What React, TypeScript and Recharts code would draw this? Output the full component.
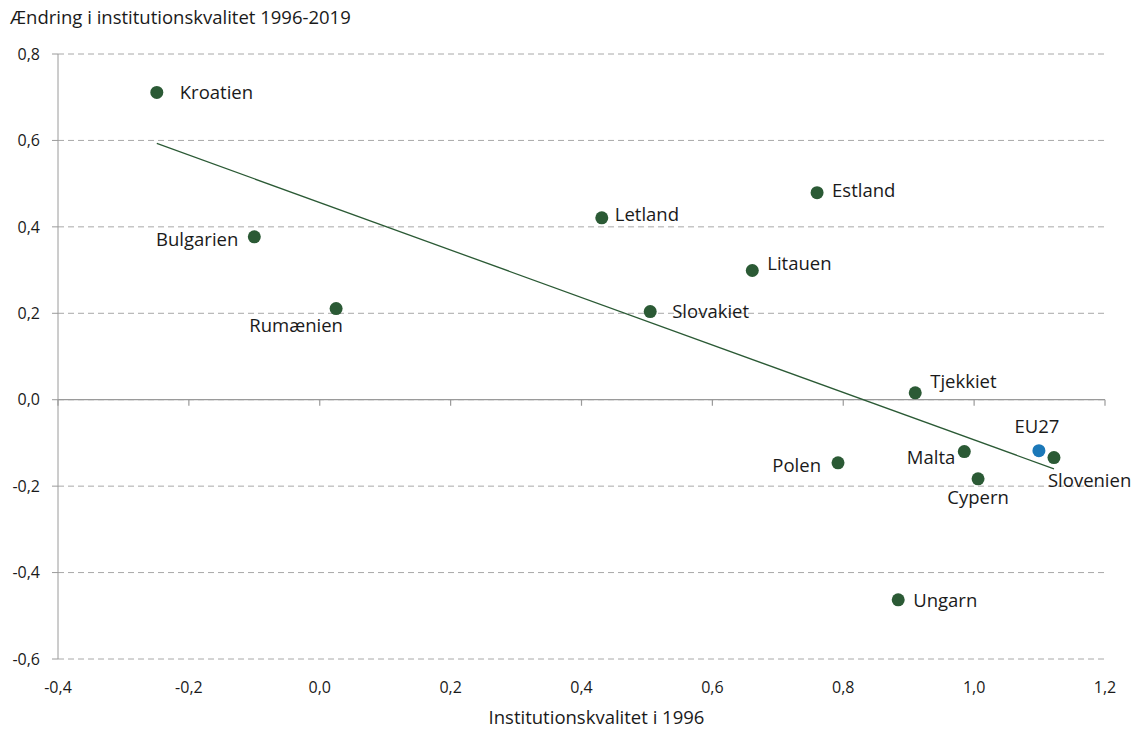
import React from "react";
import {
  ScatterChart,
  Scatter,
  XAxis,
  YAxis,
  CartesianGrid,
  ReferenceLine,
} from "recharts";

const countries = [
  "Kroatien",
  "Bulgarien",
  "Rumænien",
  "Letland",
  "Slovakiet",
  "Litauen",
  "Estland",
  "Tjekkiet",
  "Polen",
  "Malta",
  "Cypern",
  "Slovenien",
  "Ungarn",
];
const quality1996 = [-0.249, -0.1, 0.025, 0.431, 0.505, 0.661, 0.76, 0.91, 0.792, 0.985, 1.006, 1.122, 0.884];
const change = [0.711, 0.377, 0.211, 0.421, 0.204, 0.299, 0.479, 0.016, -0.146, -0.12, -0.183, -0.134, -0.463];

const euName = "EU27";
const euX = 1.099;
const euY = -0.118;

const trendX = [-0.249, 1.122];
const trendY = [0.593, -0.16];

const xTicks = [-0.4, -0.2, 0, 0.2, 0.4, 0.6, 0.8, 1.0, 1.2];
const yTicks = [-0.6, -0.4, -0.2, 0, 0.2, 0.4, 0.6, 0.8];

const GREEN = "#2b5a35";
const BLUE = "#1b78b8";
const AXIS = "#9a9a9a";
const TEXT = "#1a1a1a";
const FONT = "'Open Sans', sans-serif";
const LABEL_SIZE = 18.5;

// where each label sits relative to its dot (px)
const labelPos: Record<string, { dx: number; dy: number; anchor: "start" | "middle" | "end" }> = {
  Kroatien: { dx: 23, dy: -1, anchor: "start" },
  Bulgarien: { dx: -16, dy: 2, anchor: "end" },
  Rumænien: { dx: -40, dy: 16, anchor: "middle" },
  Letland: { dx: 13, dy: -4, anchor: "start" },
  Slovakiet: { dx: 22, dy: -1, anchor: "start" },
  Litauen: { dx: 15, dy: -8, anchor: "start" },
  Estland: { dx: 15, dy: -3, anchor: "start" },
  Tjekkiet: { dx: 15, dy: -12, anchor: "start" },
  Polen: { dx: -17, dy: 2, anchor: "end" },
  Malta: { dx: -9, dy: 5, anchor: "end" },
  Cypern: { dx: 0, dy: 18, anchor: "middle" },
  EU27: { dx: -2, dy: -25, anchor: "middle" },
  Slovenien: { dx: -6, dy: 22, anchor: "start" },
  Ungarn: { dx: 15, dy: 0, anchor: "start" },
};

const countryData = countries.map((name, i) => ({ name, x: quality1996[i], y: change[i] }));
const euData = [{ name: euName, x: euX, y: euY }];
const trendData = trendX.map((x, i) => ({ x, y: trendY[i] }));

const fmt = (v: number) => v.toFixed(1).replace(".", ",");

const makeDot = (color: string) => (props: any) => {
  const { cx, cy, payload } = props;
  const p = labelPos[payload.name] || { dx: 12, dy: 0, anchor: "start" };
  return (
    <g>
      <circle cx={cx} cy={cy} r={6.5} fill={color} />
      <text
        x={cx + p.dx}
        y={cy + p.dy}
        textAnchor={p.anchor}
        dominantBaseline="central"
        fontSize={LABEL_SIZE}
        fontFamily={FONT}
        fill={TEXT}
      >
        {payload.name}
      </text>
    </g>
  );
};

export default function App() {
  return (
    <div style={{ position: "absolute", left: 0, top: 0, width: 1136, height: 729, background: "#fff" }}>
      <div
        style={{
          position: "absolute",
          left: 10,
          top: 4,
          fontFamily: FONT,
          fontSize: LABEL_SIZE,
          color: TEXT,
        }}
      >
        Ændring i institutionskvalitet 1996-2019
      </div>
      <ScatterChart width={1136} height={729} margin={{ top: 54, right: 31, left: 0, bottom: 0 }}>
        <CartesianGrid vertical={false} stroke="#a8a8a8" strokeDasharray="6 4" />
        <XAxis
          type="number"
          dataKey="x"
          domain={[-0.4, 1.2]}
          ticks={xTicks}
          tickFormatter={fmt}
          axisLine={false}
          tickLine={false}
          tickSize={0}
          tickMargin={23}
          height={70}
          tick={{ fontSize: 16, fontFamily: FONT, fill: TEXT }}
          label={{
            value: "Institutionskvalitet i 1996",
            position: "insideBottom",
            offset: 5,
            dx: 15,
            style: { fontSize: LABEL_SIZE, fontFamily: FONT, fill: TEXT },
          }}
        />
        <YAxis
          type="number"
          dataKey="y"
          domain={[-0.6, 0.8]}
          ticks={yTicks}
          tickFormatter={fmt}
          width={58}
          axisLine={{ stroke: AXIS }}
          tickLine={{ stroke: AXIS }}
          tickSize={6}
          tickMargin={12}
          tick={{ fontSize: 16, fontFamily: FONT, fill: TEXT }}
        />
        <ReferenceLine y={0} stroke={AXIS} strokeWidth={1.2} />
        {xTicks.map((t) => (
          <ReferenceLine
            key={t}
            segment={[
              { x: t, y: 0 },
              { x: t, y: -0.014 },
            ]}
            stroke={AXIS}
            strokeWidth={1.2}
          />
        ))}
        <Scatter
          data={trendData}
          line={{ stroke: GREEN, strokeWidth: 1.3 }}
          shape={() => null}
          isAnimationActive={false}
        />
        <Scatter data={countryData} shape={makeDot(GREEN)} isAnimationActive={false} />
        <Scatter data={euData} shape={makeDot(BLUE)} isAnimationActive={false} />
      </ScatterChart>
    </div>
  );
}
